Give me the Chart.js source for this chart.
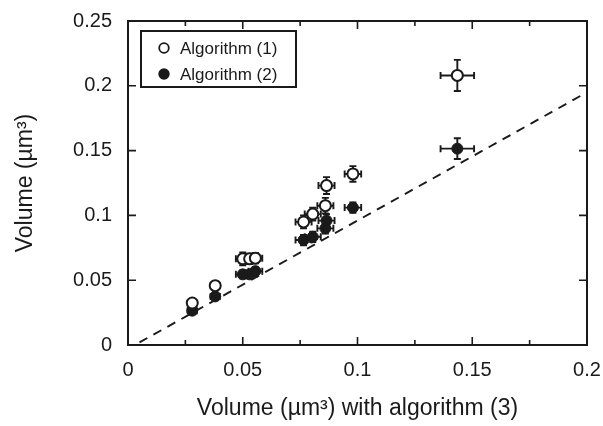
<!DOCTYPE html>
<html>
<head>
<meta charset="utf-8">
<script src="https://cdn.jsdelivr.net/npm/chart.js@4.4.1/dist/chart.umd.min.js"></script>
<style>
  html, body { margin: 0; padding: 0; background: #fff; }
  #wrap { width: 603px; height: 426px; }
</style>
</head>
<body>
<div id="wrap"><canvas id="volumeChart"></canvas></div>
<script>
// volumes with algorithm (3), shared x for both series
var volAlg3 = [0.028, 0.038, 0.050, 0.053, 0.0555, 0.0765, 0.0805, 0.086, 0.0865, 0.098, 0.1435];
var xErr    = [0.002, 0.002, 0.003, 0.003, 0.003, 0.0035, 0.0035, 0.0035, 0.0035, 0.0036, 0.0073];

var volAlg1 = [0.0324, 0.0458, 0.0665, 0.0665, 0.0670, 0.0950, 0.1010, 0.1075, 0.1230, 0.1320, 0.2080];
var err1    = [0.003, 0.003, 0.005, 0.004, 0.004, 0.005, 0.005, 0.006, 0.0065, 0.006, 0.012];

var volAlg2 = [0.0265, 0.0375, 0.0545, 0.0545, 0.0570, 0.0810, 0.0835, 0.0900, 0.0960, 0.1060, 0.1515];
var err2    = [0.002, 0.002, 0.003, 0.003, 0.003, 0.004, 0.004, 0.004, 0.005, 0.004, 0.008];

var refLine = [[0.005, 0.002], [0.2, 0.195]];

var xTicks = [0, 0.05, 0.1, 0.15, 0.2];
var yTicks = [0, 0.05, 0.1, 0.15, 0.2, 0.25];

function pts(ys) {
    return volAlg3.map(function (x, i) { return { x: x, y: ys[i] }; });
}

var FONT = '"Liberation Sans", Arial, sans-serif';

var errorBars = {
    id: 'errorBars',
    beforeDatasetsDraw: function (chart) {
        var ctx = chart.ctx, xs = chart.scales.x, ys = chart.scales.y;
        ctx.save();
        ctx.strokeStyle = '#1a1a1a';
        ctx.lineWidth = 1.9;
        chart.data.datasets.forEach(function (ds) {
            if (!ds.yErr) return;
            ds.data.forEach(function (p, i) {
                var cx = xs.getPixelForValue(p.x), cy = ys.getPixelForValue(p.y);
                var x0 = xs.getPixelForValue(p.x - xErr[i]), x1 = xs.getPixelForValue(p.x + xErr[i]);
                var y0 = ys.getPixelForValue(p.y - ds.yErr[i]), y1 = ys.getPixelForValue(p.y + ds.yErr[i]);
                ctx.beginPath();
                ctx.moveTo(x0, cy); ctx.lineTo(x1, cy);
                ctx.moveTo(x0, cy - 3.5); ctx.lineTo(x0, cy + 3.5);
                ctx.moveTo(x1, cy - 3.5); ctx.lineTo(x1, cy + 3.5);
                ctx.moveTo(cx, y0); ctx.lineTo(cx, y1);
                ctx.moveTo(cx - 3.5, y0); ctx.lineTo(cx + 3.5, y0);
                ctx.moveTo(cx - 3.5, y1); ctx.lineTo(cx + 3.5, y1);
                ctx.stroke();
            });
        });
        ctx.restore();
    }
};

// frame, inward ticks and boxed legend
var frame = {
    id: 'frame',
    afterDraw: function (chart) {
        var ctx = chart.ctx, a = chart.chartArea, xs = chart.scales.x, ys = chart.scales.y;
        ctx.save();
        ctx.strokeStyle = '#1a1a1a';
        ctx.lineWidth = 2;
        ctx.strokeRect(a.left, a.top, a.right - a.left, a.bottom - a.top);
        ctx.lineWidth = 1.6;
        ctx.beginPath();
        for (var v = 0.025; v < 0.2; v += 0.025) {
            var px = xs.getPixelForValue(v);
            var len = (Math.round(v / 0.025) % 2 === 0) ? 8 : 5;
            ctx.moveTo(px, a.bottom); ctx.lineTo(px, a.bottom - len);
            ctx.moveTo(px, a.top); ctx.lineTo(px, a.top + len);
        }
        yTicks.slice(1, -1).forEach(function (v) {
            var py = ys.getPixelForValue(v);
            ctx.moveTo(a.left, py); ctx.lineTo(a.left + 8, py);
            ctx.moveTo(a.right, py); ctx.lineTo(a.right - 8, py);
        });
        ctx.stroke();

        // legend
        var bx = a.left + 13, by = a.top + 10, bw = 155, bh = 56;
        ctx.lineWidth = 2;
        ctx.strokeRect(bx, by, bw, bh);
        ctx.font = '17px ' + FONT;
        ctx.textBaseline = 'middle';
        ctx.fillStyle = '#1a1a1a';
        [chart.data.datasets[0], chart.data.datasets[1]].forEach(function (ds, i) {
            var cy = by + 17 + i * 26;
            ctx.beginPath();
            ctx.arc(bx + 23, cy, 4.8, 0, Math.PI * 2);
            ctx.fillStyle = ds.pointBackgroundColor;
            ctx.fill();
            ctx.lineWidth = 1.8;
            ctx.stroke();
            ctx.fillStyle = '#1a1a1a';
            ctx.fillText(ds.label, bx + 39, cy + 1);
        });
        ctx.restore();
    }
};

function fmt(v) { return String(v); }

var ctx = document.getElementById('volumeChart').getContext('2d');
var volumeChart = new Chart(ctx, {
    type: 'scatter',
    data: {
        datasets: [{
            label: 'Algorithm (1)',
            data: pts(volAlg1),
            yErr: err1,
            pointRadius: 5.5,
            pointBackgroundColor: '#ffffff',
            pointBorderColor: '#1a1a1a',
            pointBorderWidth: 2
        }, {
            label: 'Algorithm (2)',
            data: pts(volAlg2),
            yErr: err2,
            pointRadius: 5.5,
            pointBackgroundColor: '#1a1a1a',
            pointBorderColor: '#1a1a1a',
            pointBorderWidth: 1
        }, {
            type: 'line',
            label: 'reference',
            data: refLine.map(function (p) { return { x: p[0], y: p[1] }; }),
            borderColor: '#1a1a1a',
            borderWidth: 1.9,
            borderDash: [9, 7],
            pointRadius: 0,
            fill: false
        }]
    },
    options: {
        responsive: true,
        maintainAspectRatio: false,
        animation: false,
        layout: { padding: { top: 21, right: 16, left: 0, bottom: 0 } },
        plugins: { legend: { display: false }, tooltip: { enabled: false } },
        scales: {
            x: {
                type: 'linear',
                min: 0, max: 0.2,
                afterBuildTicks: function (s) { s.ticks = xTicks.map(function (v) { return { value: v }; }); },
                afterFit: function (s) { s.height = 81; s.paddingLeft = 0; s.paddingRight = 0; },
                grid: { display: false, drawTicks: false },
                border: { display: false },
                ticks: { color: '#1a1a1a', font: { family: FONT, size: 20 }, padding: 13, callback: fmt, maxRotation: 0 },
                title: { display: true, text: 'Volume (µm³) with algorithm (3)', color: '#1a1a1a',
                         font: { family: FONT, size: 23 }, padding: { top: 14 } }
            },
            y: {
                type: 'linear',
                min: 0, max: 0.25,
                afterBuildTicks: function (s) { s.ticks = yTicks.map(function (v) { return { value: v }; }); },
                afterFit: function (s) { s.width = 128; s.paddingTop = 0; s.paddingBottom = 0; },
                grid: { display: false, drawTicks: false },
                border: { display: false },
                ticks: { color: '#1a1a1a', font: { family: FONT, size: 20 }, padding: 16, callback: fmt },
                title: { display: true, text: 'Volume (µm³)', color: '#1a1a1a',
                         font: { family: FONT, size: 23 }, padding: { top: 12, bottom: 0 } }
            }
        }
    },
    plugins: [errorBars, frame]
});
</script>
</body>
</html>
